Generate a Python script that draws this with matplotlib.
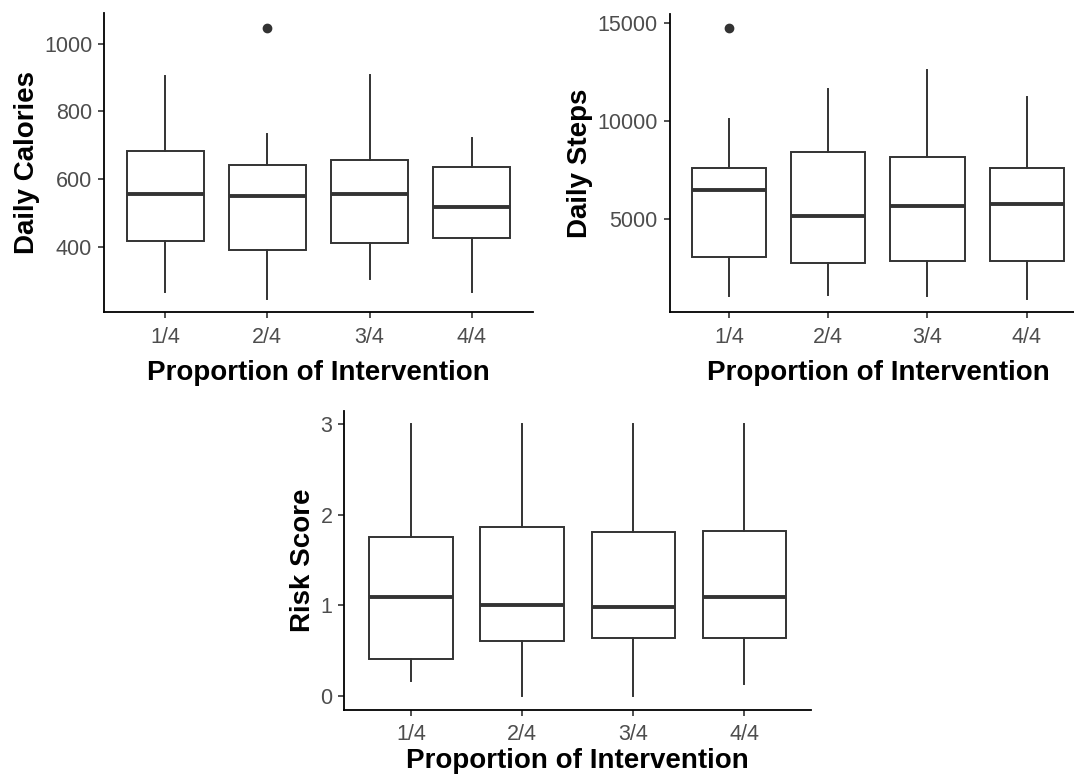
import matplotlib
matplotlib.use("Agg")
import matplotlib.pyplot as plt

plt.rcParams['font.family'] = ['Liberation Sans', 'DejaVu Sans']

# Categories
groups = ["1/4", "2/4", "3/4", "4/4"]

# Daily calories: whisker low, Q1, median, Q3, whisker high, outliers
cal_low = [267, 246, 304, 267]
cal_q1 = [416, 390, 410, 427]
cal_med = [555, 549, 555, 517]
cal_q3 = [682, 641, 656, 635]
cal_high = [904, 732, 908, 722]
cal_out = [[], [1047], [], []]

# Daily steps
steps_low = [1043, 1110, 1043, 924]
steps_q1 = [3030, 2741, 2842, 2842]
steps_med = [6494, 5135, 5678, 5780]
steps_q3 = [7615, 8429, 8157, 7615]
steps_high = [10076, 11604, 12589, 11230]
steps_out = [[14711], [], [], []]

# Risk score
risk_low = [0.165, 0.0, 0.0, 0.129]
risk_q1 = [0.412, 0.603, 0.643, 0.643]
risk_med = [1.099, 1.0, 0.982, 1.099]
risk_q3 = [1.754, 1.868, 1.809, 1.827]
risk_high = [3.0, 3.0, 3.0, 3.0]
risk_out = [[], [], [], []]

EDGE = "#333333"
TICK_TXT = "#4D4D4D"


def make_stats(low, q1, med, q3, high, outs):
    stats = []
    for i in range(len(groups)):
        stats.append({
            "whislo": low[i], "q1": q1[i], "med": med[i],
            "q3": q3[i], "whishi": high[i], "fliers": outs[i],
        })
    return stats


def draw_box(ax, stats, ylabel, ylim, yticks, xpad=9):
    ax.bxp(
        stats, positions=range(1, len(groups) + 1), widths=0.75,
        showcaps=False, patch_artist=True,
        boxprops=dict(facecolor="white", edgecolor=EDGE, linewidth=1.4),
        medianprops=dict(color=EDGE, linewidth=2.8),
        whiskerprops=dict(color=EDGE, linewidth=1.4),
        flierprops=dict(marker="o", markerfacecolor=EDGE, markeredgecolor=EDGE,
                        markersize=6),
    )
    ax.set_xlim(0.4, 4.6)
    ax.set_ylim(*ylim)
    ax.set_yticks(yticks)
    ax.set_xticks(range(1, len(groups) + 1))
    ax.set_xticklabels(groups)
    ax.spines["top"].set_visible(False)
    ax.spines["right"].set_visible(False)
    ax.spines["left"].set_linewidth(1.3)
    ax.spines["bottom"].set_linewidth(1.3)
    ax.tick_params(axis="both", direction="out", length=4.5, width=1.2,
                   color=EDGE, labelsize=15.5, labelcolor=TICK_TXT)
    ax.tick_params(axis="x", pad=6)
    ax.tick_params(axis="y", pad=4)
    ax.set_xlabel("Proportion of Intervention", fontsize=20,
                  fontweight="bold", labelpad=xpad)
    ax.set_ylabel(ylabel, fontsize=20, fontweight="bold", labelpad=3)


fig = plt.figure(figsize=(10.74, 7.78), dpi=100)

ax1 = fig.add_axes([0.0968, 0.5986, 0.3994, 0.3843])
draw_box(ax1, make_stats(cal_low, cal_q1, cal_med, cal_q3, cal_high, cal_out),
         "Daily Calories", (206, 1090), [400, 600, 800, 1000])

ax2 = fig.add_axes([0.6234, 0.5986, 0.388, 0.3829])
draw_box(ax2, make_stats(steps_low, steps_q1, steps_med, steps_q3, steps_high,
                         steps_out),
         "Daily Steps", (235, 15420), [5000, 10000, 15000])

ax3 = fig.add_axes([0.3206, 0.0878, 0.4345, 0.3843])
draw_box(ax3, make_stats(risk_low, risk_q1, risk_med, risk_q3, risk_high,
                         risk_out),
         "Risk Score", (-0.15, 3.15), [0, 1, 2, 3], xpad=2)

fig.savefig("out.png", dpi=100)
